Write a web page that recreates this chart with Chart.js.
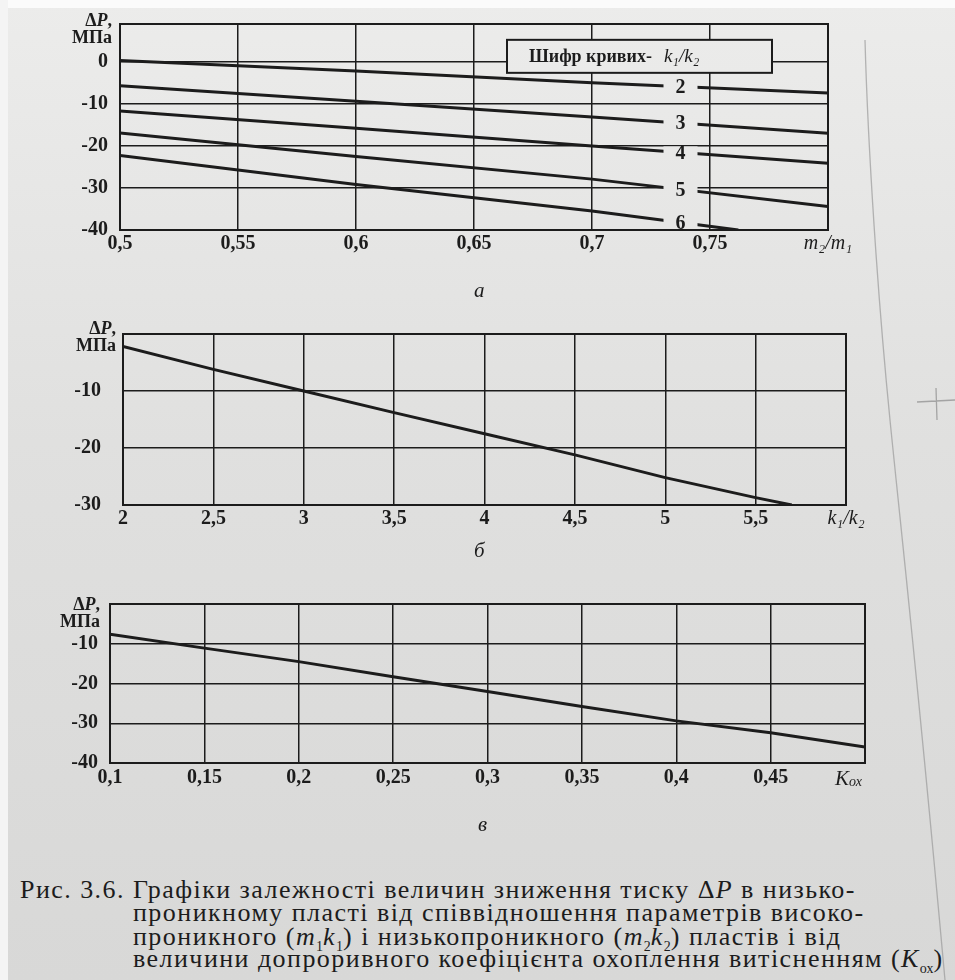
<!DOCTYPE html>
<html><head><meta charset="utf-8">
<script src="https://cdn.jsdelivr.net/npm/chart.js@4/dist/chart.umd.min.js"></script>
<style>
body{margin:0;width:955px;height:980px;overflow:hidden;background:linear-gradient(#ececeb,#e0e0df 45%,#d8d8d7);font-family:"Liberation Serif","Times New Roman","DejaVu Serif",serif;color:#1c1c1c;position:relative}
canvas{position:absolute;left:0}
.t{position:absolute;font-family:"Liberation Serif","Times New Roman","DejaVu Serif",serif;white-space:nowrap;color:#1c1c1c}
.ax{font-weight:bold;font-size:18px;line-height:17px;text-align:right}
.cap{font-size:26px;line-height:23px;letter-spacing:1.45px}
.cap sub{font-size:14px;letter-spacing:0}
</style></head><body>
<div style="position:absolute;left:0;top:0;width:955px;height:8px;background:#fbfbfb"></div>
<div style="position:absolute;left:0;top:0;width:8px;height:980px;background:#f4f4f4"></div>
<svg style="position:absolute;left:0;top:0" width="955" height="980">
<path d="M865 40 C 868 150, 878 300, 890 420 S 915 650, 945 980" stroke="#9a9a9a" stroke-width="1.3" fill="none" opacity="0.7"/>
<path d="M917 402 L955 400 M936 388 L937 420" stroke="#8a8a8a" stroke-width="1.3" fill="none" opacity="0.7"/>
</svg>
<canvas id="ca" width="955" height="260" style="top:0"></canvas>
<canvas id="cb" width="955" height="260" style="top:300px"></canvas>
<canvas id="cc" width="955" height="240" style="top:580px"></canvas>

<div class="t ax" style="left:50px;top:12px;width:62px">Δ<i>P</i>,<br>МПа</div>
<div class="t ax" style="left:52px;top:320px;width:64px">Δ<i>P</i>,<br>МПа</div>
<div class="t ax" style="left:36px;top:596px;width:64px">Δ<i>P</i>,<br>МПа</div>

<div class="t" style="left:474px;top:278px;font-size:21px;font-style:italic">а</div>
<div class="t" style="left:474px;top:538px;font-size:21px;font-style:italic">б</div>
<div class="t" style="left:478px;top:812px;font-size:21px;font-style:italic">в</div>

<div class="t cap" style="left:20px;top:878px">Рис. 3.6. Графіки залежності величин зниження тиску Δ<i>P</i> в низько-</div>
<div class="t cap" style="left:133px;top:901px">проникному пласті від співвідношення параметрів високо-</div>
<div class="t cap" style="left:133px;top:925px">проникного (<i>m</i><sub>1</sub><i>k</i><sub>1</sub>) і низькопроникного (<i>m</i><sub>2</sub><i>k</i><sub>2</sub>) пластів і від</div>
<div class="t cap" style="left:133px;top:947px">величини допроривного коефіцієнта охоплення витісненням (<i>K</i><sub>ох</sub>)</div>

<script>
// ---------- data: chart а ----------
const xA = [0.5, 0.6, 0.7, 0.8];
const curve2 = [0.3, -2.2, -5.0, -7.4];
const curve3 = [-5.7, -9.4, -13.1, -17.0];
const curve4 = [-11.7, -15.8, -20.0, -24.1];
const curve5 = [-16.9, -22.5, -27.9, -34.4];
const xA6 = [0.5, 0.6, 0.7, 0.762];
const curve6 = [-22.3, -29.2, -35.5, -40.0];
const curveNames = ['2', '3', '4', '5', '6'];
const curveLabelX = 0.7375;
const xTickValsA = [0.5, 0.55, 0.6, 0.65, 0.7, 0.75, 0.8];
const xTickLabelsA = ['0,5', '0,55', '0,6', '0,65', '0,7', '0,75', 'm₂/m₁'];
const yTickValsA = [0, -10, -20, -30, -40];
const yTickLabelsA = ['0', '-10', '-20', '-30', '-40'];

// ---------- data: chart б ----------
const xB = [2, 2.5, 3, 3.5, 4, 4.5, 5, 5.5, 5.7];
const yB = [-2.2, -6.2, -10.0, -13.8, -17.5, -21.2, -25.2, -28.7, -30.0];
const xTickValsB = [2, 2.5, 3, 3.5, 4, 4.5, 5, 5.5, 6];
const xTickLabelsB = ['2', '2,5', '3', '3,5', '4', '4,5', '5', '5,5', 'k₁/k₂'];
const yTickValsB = [0, -10, -20, -30];
const yTickLabelsB = ['', '-10', '-20', '-30'];

// ---------- data: chart в ----------
const xC = [0.1, 0.15, 0.2, 0.25, 0.3, 0.35, 0.4, 0.45, 0.5];
const yC = [-7.6, -11.1, -14.5, -18.3, -22.0, -25.8, -29.4, -32.4, -36.0];
const xTickValsC = [0.1, 0.15, 0.2, 0.25, 0.3, 0.35, 0.4, 0.45, 0.5];
const xTickLabelsC = ['0,1', '0,15', '0,2', '0,25', '0,3', '0,35', '0,4', '0,45', ''];
const yTickValsC = [0, -10, -20, -30, -40];
const yTickLabelsC = ['', '-10', '-20', '-30', '-40'];

const INK = '#1c1c1c';
const FONT = '"Liberation Serif", "Times New Roman", "DejaVu Serif", serif';

const framePlugin = {
  id: 'frame',
  afterDatasetsDraw(chart) {
    const a = chart.chartArea, ctx = chart.ctx;
    ctx.save();
    ctx.strokeStyle = INK; ctx.lineWidth = 2;
    ctx.strokeRect(a.left, a.top, a.right - a.left, a.bottom - a.top);
    ctx.restore();
  }
};

function makeChart(id, cfg) {
  return new Chart(document.getElementById(id), {
    type: 'line',
    data: {
      datasets: cfg.series.map(s => ({
        label: s.name,
        data: s.x.map((x, i) => ({ x: x, y: s.y[i] })),
        borderColor: INK, borderWidth: 3, pointRadius: 0, tension: 0, fill: false
      }))
    },
    options: {
      responsive: false, animation: false, events: [],
      layout: { padding: cfg.pad },
      plugins: { legend: { display: false }, tooltip: { enabled: false } },
      scales: {
        x: {
          type: 'linear', min: cfg.xMin, max: cfg.xMax,
          afterBuildTicks: s => { s.ticks = cfg.xTicks.map(v => ({ value: v })); },
          afterFit: s => { s.height = cfg.xH; },
          ticks: {
            callback: (v, i) => cfg.xLabels[i],
            autoSkip: false, maxRotation: 0, color: INK, padding: cfg.xPad,
            font: ctx => ({ family: FONT, size: 20, weight: (ctx.index === cfg.xTicks.length - 1 ? 'normal' : 'bold'), style: (ctx.index === cfg.xTicks.length - 1 ? 'italic' : 'normal') })
          },
          grid: { color: INK, lineWidth: 1.5, drawTicks: false },
          border: { color: INK, width: 2 }
        },
        y: {
          type: 'linear', min: cfg.yMin, max: cfg.yMax,
          afterBuildTicks: s => { s.ticks = cfg.yTicks.map(v => ({ value: v })); },
          afterFit: s => { s.width = cfg.yW; },
          ticks: {
            callback: (v, i) => cfg.yLabels[i],
            color: INK, padding: cfg.yPad,
            font: { family: FONT, size: 20, weight: 'bold' }
          },
          grid: { color: INK, lineWidth: 1.5, drawTicks: false },
          border: { color: INK, width: 2 }
        }
      }
    },
    plugins: [framePlugin].concat(cfg.plugins || [])
  });
}

// curve number labels cut into the lines of chart а
const curveLabelPlugin = {
  id: 'curveLabels',
  afterDatasetsDraw(chart) {
    const ctx = chart.ctx, xs = chart.scales.x;
    const px = xs.getPixelForValue(curveLabelX);
    chart.data.datasets.forEach((ds, i) => {
      const pts = chart.getDatasetMeta(i).data;
      let py = null;
      for (let k = 0; k < pts.length - 1; k++) {
        if (pts[k].x <= px && pts[k + 1].x >= px) {
          const t = (px - pts[k].x) / (pts[k + 1].x - pts[k].x);
          py = pts[k].y + t * (pts[k + 1].y - pts[k].y);
        }
      }
      if (py === null) return;
      ctx.save();
      ctx.globalCompositeOperation = 'destination-out';
      ctx.fillRect(px - 17, py - 6, 34, 12);
      ctx.restore();
      ctx.save();
      ctx.fillStyle = INK; ctx.font = 'bold 20px ' + FONT;
      ctx.textAlign = 'center'; ctx.textBaseline = 'middle';
      ctx.fillText(ds.label, px, py + 1);
      ctx.restore();
    });
  }
};

const legendBoxPlugin = {
  id: 'legendBox',
  afterDraw(chart) {
    const ctx = chart.ctx, a = chart.chartArea, ys = chart.scales.y;
    const y0 = ys.getPixelForValue(0);
    const l = a.left + 387, t = y0 - 22, w = 265, h = 33;
    ctx.save();
    ctx.globalCompositeOperation = 'destination-out';
    ctx.fillRect(l, t, w, h);
    ctx.restore();
    ctx.save();
    ctx.strokeStyle = INK; ctx.lineWidth = 2;
    ctx.strokeRect(l, t, w, h);
    ctx.fillStyle = INK; ctx.textBaseline = 'middle';
    ctx.font = 'bold 18px ' + FONT;
    const label = 'Шифр кривих-';
    ctx.fillText(label, l + 22, t + h / 2 + 1);
    const wl = ctx.measureText(label).width;
    ctx.font = 'italic 19px ' + FONT;
    ctx.fillText('k₁/k₂', l + 22 + wl + 12, t + h / 2 + 1);
    ctx.restore();
  }
};

const koxPlugin = {
  id: 'kox',
  afterDraw(chart) {
    const ctx = chart.ctx, a = chart.chartArea, xs = chart.scales.x;
    const px = xs.getPixelForValue(0.5) - 30;
    ctx.save();
    ctx.fillStyle = INK; ctx.textBaseline = 'alphabetic';
    ctx.font = 'italic 21px ' + FONT;
    ctx.fillText('K', px, a.bottom + 22);
    ctx.font = 'italic 14px ' + FONT;
    ctx.fillText('ох', px + 14, a.bottom + 23);
    ctx.restore();
  }
};

makeChart('ca', {
  series: [
    { name: curveNames[0], x: xA, y: curve2 },
    { name: curveNames[1], x: xA, y: curve3 },
    { name: curveNames[2], x: xA, y: curve4 },
    { name: curveNames[3], x: xA, y: curve5 },
    { name: curveNames[4], x: xA6, y: curve6 }
  ],
  xMin: 0.5, xMax: 0.8, yMin: -40, yMax: 9,
  xTicks: xTickValsA, xLabels: xTickLabelsA, yTicks: yTickValsA, yLabels: yTickLabelsA,
  pad: { left: 0, right: 127, top: 20, bottom: 0 }, yW: 120, xH: 30, xPad: 2, yPad: 12,
  plugins: [curveLabelPlugin, legendBoxPlugin]
});

makeChart('cb', {
  series: [{ name: 'б', x: xB, y: yB }],
  xMin: 2, xMax: 6, yMin: -30, yMax: 0,
  xTicks: xTickValsB, xLabels: xTickLabelsB, yTicks: yTickValsB, yLabels: yTickLabelsB,
  pad: { left: 0, right: 109, top: 32, bottom: 25 }, yW: 123, xH: 30, xPad: 2, yPad: 22
});

makeChart('cc', {
  series: [{ name: 'в', x: xC, y: yC }],
  xMin: 0.1, xMax: 0.5, yMin: -40, yMax: 0,
  xTicks: xTickValsC, xLabels: xTickLabelsC, yTicks: yTickValsC, yLabels: yTickLabelsC,
  pad: { left: 0, right: 90, top: 18, bottom: 27 }, yW: 110, xH: 30, xPad: 3, yPad: 12,
  plugins: [koxPlugin]
});
</script>
</body></html>
